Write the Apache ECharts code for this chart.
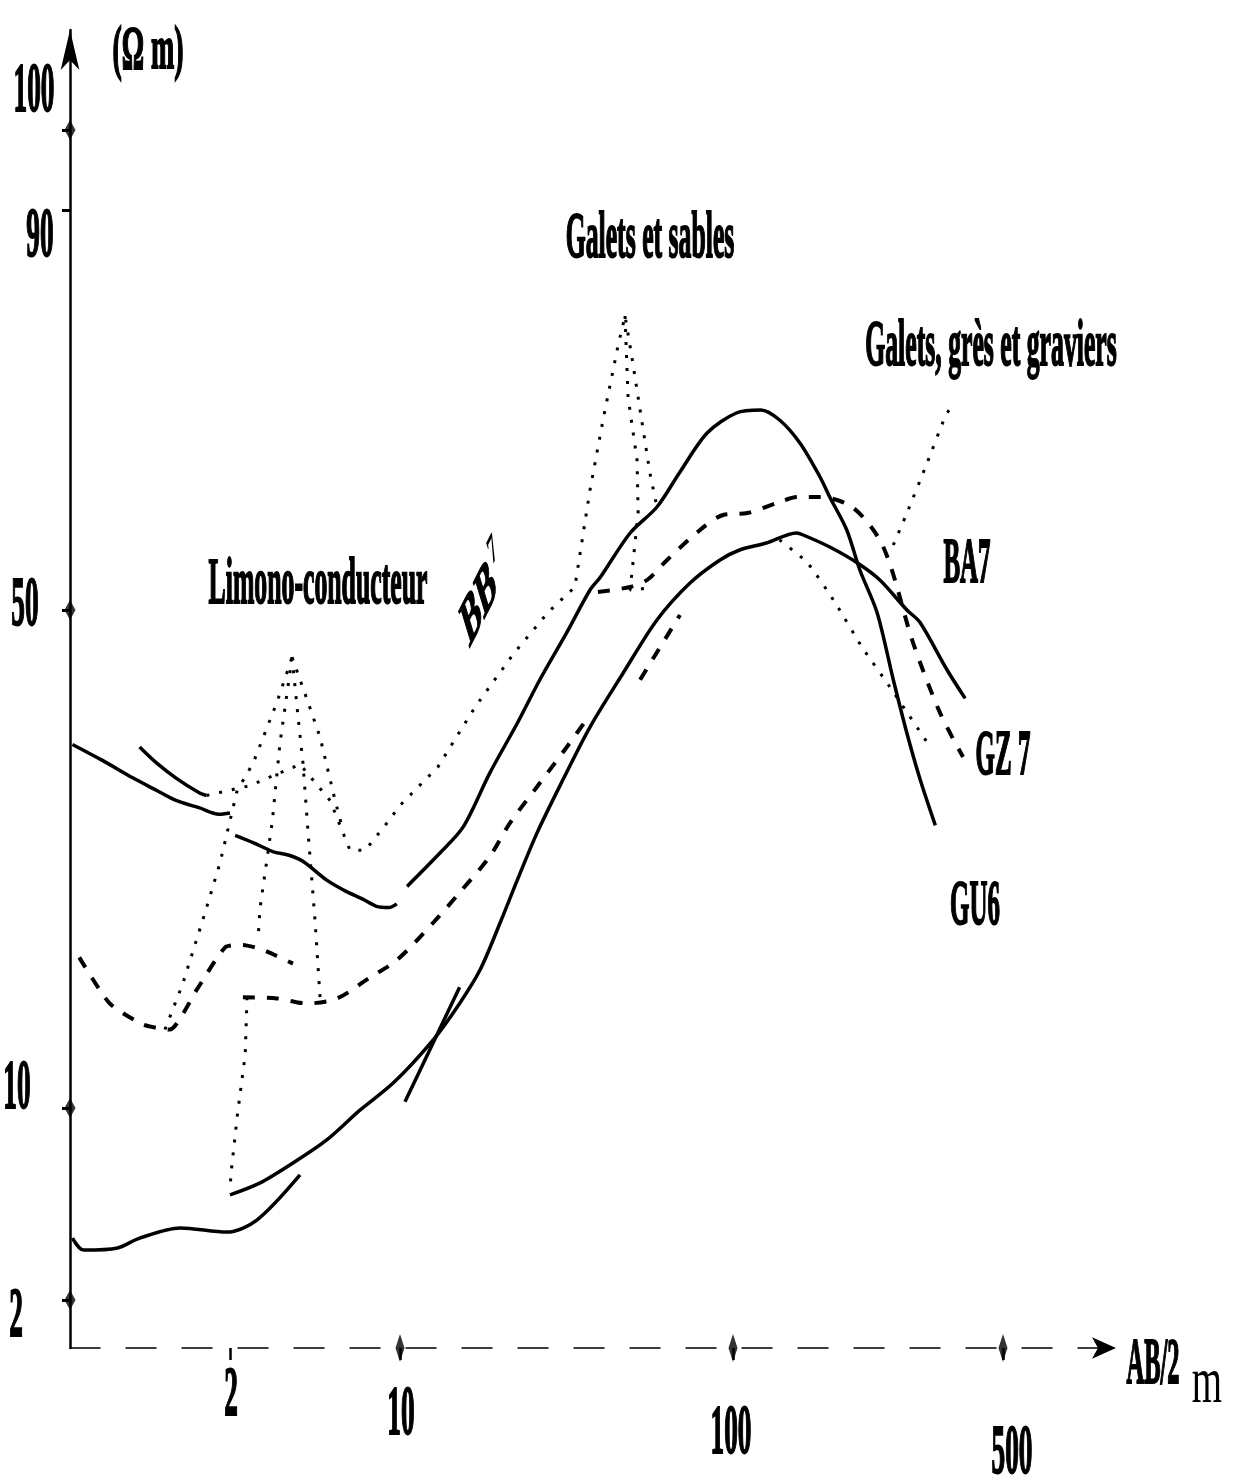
<!DOCTYPE html>
<html>
<head>
<meta charset="utf-8">
<script src="https://cdn.jsdelivr.net/npm/echarts@6/dist/echarts.min.js"></script>
<style>
  html, body { margin: 0; background: #fff; }
  #chart { width: 1240px; height: 1483px; }
</style>
</head>
<body>
<div id="chart"></div>
<script>
// values: [AB/2 (m), apparent resistivity (ohm m)]
const gu6A = [[0.45,39.2],[0.6,37.9],[0.8,36.5],[1,35.5],[1.2,34.7],[1.5,34.1],[1.8,33.6],[2,33.7]]
const gu6B = [[2.1,31.9],[2.5,31.3],[3,30.6],[3.5,30.3],[4,29.8],[5,28.3],[6,27.4],[7,26.8],[8,26.2],[9,26.1],[9.7,26.4]]
const gu6C = [[10.5,27.8],[13.2,30.5],[15.5,32.6],[18.6,36.9],[22.5,40.9],[26.3,44.4],[31.7,48.2],[37.2,52.0],[40,53.3],
  [49.1,57.7],[59.1,60.3],[69.3,63.8],[83.6,67.7],[102,69.7],[118,70.0],[132,69.0],[149,66.7],[168,63.3],[178,61.3],
  [197,58.0],[213,54.0],[236,49.8],[260,44.4],[282,40.1],[305,36.4],[334,32.7]]

const ba7A = [[0.45,4.58],[0.5,4.08],[0.69,4.17],[0.85,4.58],[1.25,5.0],[1.94,4.83],[2.58,5.33],[3.88,7.21]]
const ba7B = [[2.0,6.38],[2.66,6.88],[3.63,7.71],[5.0,8.67],[6.86,9.92],[9.37,12.0],[12.6,15.5],[15.1,18.4],[17.4,21.1],
  [20.0,24.9],[22.5,28.3],[25.8,32.1],[30.9,36.4],[37.2,40.6],[46.7,44.9],[59.1,49.2],[74.3,52.7],[91.4,55.0],[104,56.0],
  [122,56.7],[146,57.7],[152,57.5],[178,56.3],[210,54.7],[240,53.0],[282,50.0],[305,49.0],[358,45.2],[399,42.9]]
const ba7C = [[10.35,10.5],[12.3,14.7],[15.1,19.7]]

const gz7A = [[0.48,22.1],[0.64,18.4],[0.88,16.7],[1.13,16.3],[1.46,19.5],[1.91,22.9],[2.26,23.1],[2.73,22.7],[3.63,21.6]]
const gz7B = [[2.26,18.9],[3.12,18.8],[4.15,18.4],[5.51,18.8],[7.54,20.5],[9.73,21.9],[12.6,24.9],[15.1,27.3],[18.6,30.2],
  [21.4,32.9],[25.8,35.8],[31.7,39.0],[37.2,41.6]]
const gz7C = [[39.3,51.8],[49.1,52.3],[55.2,53.0],[63.4,55.0],[79.6,58.0],[93.3,59.5],[109,59.7],[130,60.7],[147,61.3],
  [168,61.3],[205,60.2],[245,56.3],[293,47.3],[344,41.7],[394,38.2]]
const gz7D = [[52.6,44.4],[69.3,49.6]]

const bb7Start = [[0.85,39.0],[1,37.7],[1.2,36.5],[1.5,35.3],[1.6,35.1]]
const bb7A = [[1.6,35.1],[2.42,35.9],[3.88,37.6],[5.16,34.7],[6.23,30.7],[7.19,30.7],[8.69,32.7],[10,34.3],[13,37.4],
  [16.8,42.2],[21.8,46.4],[27.8,49.8],[33.5,52.3],[37.2,62.0],[40.7,69.0],[45.2,76.5],[47.4,79.4],[49.7,75.3],
  [52.6,70.0],[56.3,63.7],[59.1,60.3]]
const bb7Inner = [[47.4,79.4],[48.4,71.3],[51.5,65.0],[51.9,59.7],[49.1,52.0],[56.3,52.2]]
const bb7B = [[132,57.0],[156,54.7],[184,50.7],[216,47.0],[255,43.8],[324,39.0]]
const bb7C = [[260,56.5],[282,59.7],[318,64.7],[354,69.3],[372,70.7]]

// the "limono-conducteur" peak
const limL = [[1.08,16.3],[1.28,20.0],[1.58,25.7],[1.82,29.7],[2.14,35.5],[2.49,37.7],[3.12,42.6],[3.6,46.2]]
const limR = [[3.6,46.2],[4.15,42.8],[4.69,39.8],[5.41,34.7],[5.83,32.3]]
const limM = [[3.6,46.2],[3.81,41.4],[3.99,37.7],[4.19,32.1],[4.48,24.9],[4.69,18.9]]
const limN = [[3.6,46.2],[3.21,39.3],[2.98,32.9],[2.66,26.1],[2.61,23.7]]
const limDrop = [[2.35,18.9],[2.31,14.3],[2.14,9.63],[2.02,7.29],[2.0,6.58]]

const xTicks = [2, 10, 100, 500]
const xTickLabels = ['2', '10', '100', '500']
const yTicks = [2, 10, 50, 90, 100]
const yTickLabels = ['2', '10', '50', '90', '100']

// the figure's hand-drawn graduations are not regular: piecewise scale
const xGrad = [[2, 160], [10, 330], [100, 663], [500, 933]]
const yGrad = [[0, 0], [2, 48], [10, 240], [50, 738], [90, 1138], [100, 1218]]

function xPos(a) {
  const l = Math.log10(a)
  let i = 0
  while (i < xGrad.length - 2 && l > Math.log10(xGrad[i + 1][0])) i++
  const l0 = Math.log10(xGrad[i][0]), l1 = Math.log10(xGrad[i + 1][0])
  return xGrad[i][1] + (l - l0) / (l1 - l0) * (xGrad[i + 1][1] - xGrad[i][1])
}
function yPos(r) {
  let i = 0
  while (i < yGrad.length - 2 && r > yGrad[i + 1][0]) i++
  const [r0, p0] = yGrad[i], [r1, p1] = yGrad[i + 1]
  return p0 + (r - r0) / (r1 - r0) * (p1 - p0)
}

const solid = {color: '#000', width: 3.5, type: 'solid'}
const dashed = {color: '#000', width: 4, type: [12, 12]}
const dotted = {color: '#000', width: 3, type: [3, 10]}

const line = (data, style, smooth) => ({
  type: 'line',
  data: data.map(([a, r]) => [xPos(a), yPos(r)]),
  symbol: 'none',
  smooth: smooth,
  lineStyle: style,
  silent: true
})

let chart = echarts.init(document.getElementById('chart'))

chart.setOption({
  animation: false,
  backgroundColor: '#fff',
  grid: {left: 70, right: 124, top: 30, bottom: 135},
  xAxis: {
    type: 'value', min: 0, max: 1046,
    splitLine: {show: false},
    axisLine: {
      lineStyle: {color: '#000', width: 1.5, type: [30, 26]},
      symbol: ['none', 'arrow'], symbolSize: [16, 24]
    },
    axisTick: {customValues: xTicks.map(xPos), length: 12, lineStyle: {color: '#000', width: 2.5}},
    axisLabel: {show: false}
  },
  yAxis: {
    type: 'value', min: 0, max: 1318,
    splitLine: {show: false},
    axisLine: {
      show: true,
      lineStyle: {color: '#000', width: 2.5},
      symbol: ['none', 'arrow'], symbolSize: [14, 40]
    },
    axisTick: {show: true, customValues: yTicks.map(yPos), length: 8, lineStyle: {color: '#000', width: 3}},
    axisLabel: {show: false}
  },
  series: [
    line(gu6A, solid, 0.3), line(gu6B, solid, 0.3), line(gu6C, solid, 0.3),
    line(ba7A, solid, 0.3), line(ba7B, solid, 0.3), line(ba7C, solid, 0.2),
    line(gz7A, dashed, 0.2), line(gz7B, dashed, 0.3), line(gz7C, dashed, 0.3), line(gz7D, dashed, 0),
    line(bb7Start, solid, 0.3), line(bb7A, dotted, 0), line(bb7Inner, dotted, 0),
    line(bb7B, dotted, 0.2), line(bb7C, dotted, 0.2),
    line(limL, dotted, 0), line(limR, dotted, 0), line(limM, dotted, 0), line(limN, dotted, 0),
    line(limDrop, dotted, 0),
    {
      type: 'scatter', silent: true, symbol: 'diamond', symbolSize: [11, 20],
      itemStyle: {color: '#000'},
      data: yTicks.filter(v => v !== 90).map(v => [0, yPos(v)])
    },
    {
      type: 'scatter', silent: true, symbol: 'diamond', symbolSize: [9, 28],
      itemStyle: {color: '#000'},
      data: xTicks.filter(v => v !== 2).map(v => [xPos(v), 0])
    }
  ]
})

// the lettering of the scan is strongly condensed and heavy
const serif = '"Liberation Serif", "DejaVu Serif", serif'
const narrow = 0.39
const txt = (text, x, y, size, opts) => Object.assign({
  type: 'text', x: x, y: y, scaleX: narrow, silent: true,
  style: {
    text: text, font: 'bold ' + size + 'px ' + serif, fill: '#000',
    stroke: '#000', lineWidth: 2, align: 'center', verticalAlign: 'middle'
  }
}, opts || {})

const yLabelShift = [[-54, 18], [-53, -18], [-45, -3], [-30, 28], [-36, -37]]
const xLabelShift = [[1, 49], [1, 68], [-2, 87], [9, 107]]

let graphics = []
yTicks.forEach((v, i) => {
  const p = chart.convertToPixel({gridIndex: 0}, [0, yPos(v)])
  graphics.push(txt(yTickLabels[i], p[0] + yLabelShift[i][0], p[1] + yLabelShift[i][1], 70))
})
xTicks.forEach((v, i) => {
  const p = chart.convertToPixel({gridIndex: 0}, [xPos(v), 0])
  graphics.push(txt(xTickLabels[i], p[0] + xLabelShift[i][0], p[1] + xLabelShift[i][1], 70))
})

graphics.push(
  txt('(Ω m)', 148, 52, 62, {scaleX: 0.45}),
  txt('AB/2', 1153, 1366, 66, {scaleX: 0.37}),
  {
    type: 'text', x: 1207, y: 1385, scaleX: 0.59, silent: true,
    style: {text: 'm', font: '66px ' + serif, fill: '#000', align: 'center', verticalAlign: 'middle'}
  },
  txt('Galets et sables', 650, 240, 66),
  txt('Galets, grès et graviers', 991, 348, 66),
  txt('Limono-conducteur', 318, 586, 66),
  txt('BA7', 967, 565, 64),
  txt('GZ 7', 1003, 757, 64),
  txt('GU6', 975, 907, 64),
  {
    type: 'group', x: 483, y: 598, scaleX: narrow, silent: true,
    children: [{
      type: 'group', rotation: 0.66,
      children: [
        {type: 'text', x: -12, y: 0, style: {text: 'BB', font: 'bold 70px ' + serif, fill: '#000', stroke: '#000', lineWidth: 2, align: 'center', verticalAlign: 'middle'}},
        {type: 'text', x: 48, y: -22, style: {text: '7', font: 'bold 42px ' + serif, fill: '#000', align: 'center', verticalAlign: 'middle'}}
      ]
    }]
  }
)

chart.setOption({graphic: graphics})

window.addEventListener('resize', () => {
  chart.resize()
})
</script>
</body>
</html>
